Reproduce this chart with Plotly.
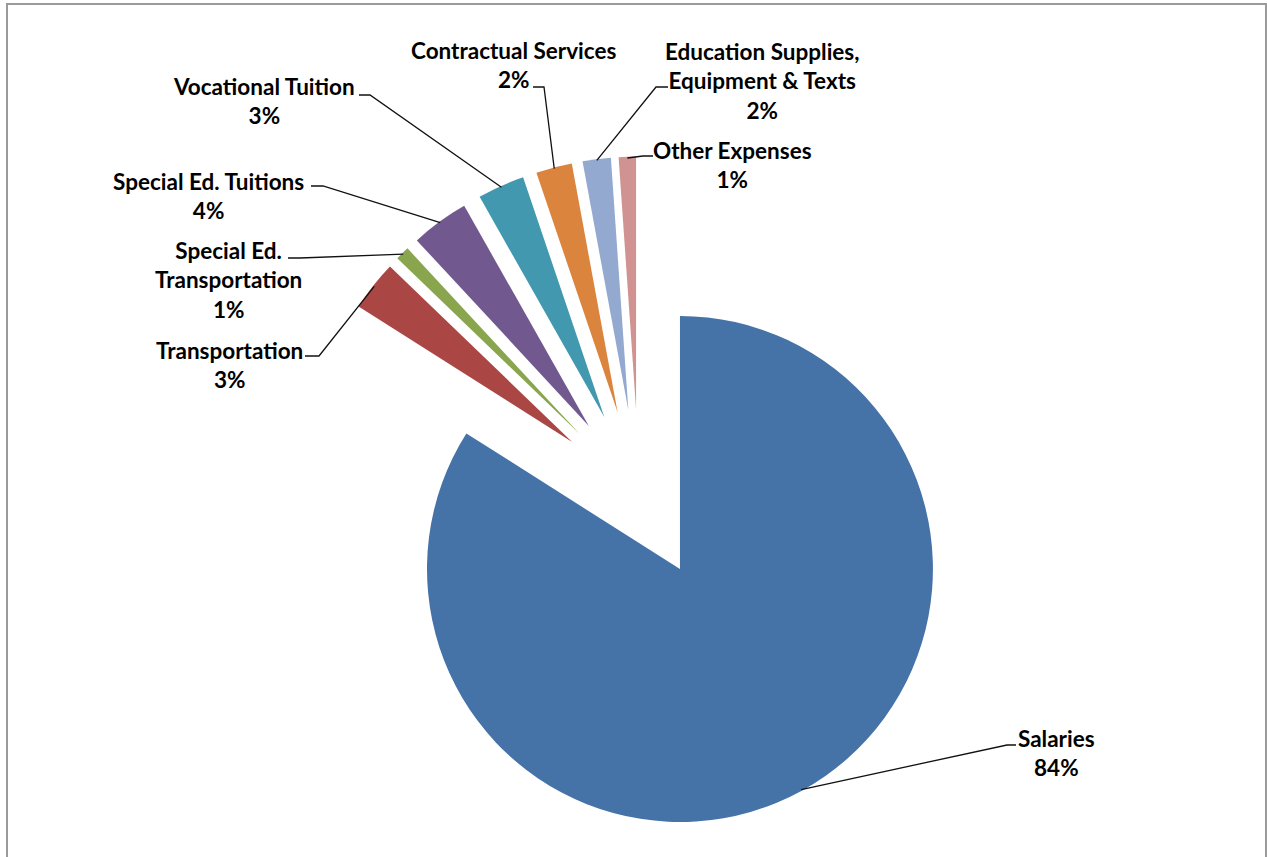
import math
import plotly.graph_objects as go

# ---- data ----
labels = ["Salaries", "Transportation", "Special Ed.<br>Transportation", "Special Ed. Tuitions",
          "Vocational Tuition", "Contractual Services", "Education Supplies,<br>Equipment & Texts",
          "Other Expenses"]
values = [84.0, 3.2, 0.9, 3.7, 3.0, 2.3, 1.8, 1.1]
colors = ["#4572A7", "#AA4643", "#89A54E", "#71588F", "#4198AF", "#DB843D", "#93A9CF", "#D19392"]

# ---- layout parameters (pixels) ----
W, H = 1267, 857
PULL = 0.336
dom_x = [0.2376, 0.7711]
dom_y = [0.0286, 0.8174]
FONT = "Lato"
FSIZE = 22.5

# label text centres (px) and leader-line stub (text end, elbow)
label_pos = [(1056, 753), (229, 365), (228, 280), (208, 196), (264, 101), (513, 65), (762, 81), (732, 165)]
stub_end = [(1016, 745), (305, 356), (288, 258), (311, 186), (359, 95), (533, 87), (668, 87), (653, 156)]
stub_elbow = [(1007, 745), (319, 356), (300, 258), (323, 186), (370, 95), (544, 87), (656, 87), (643, 156)]

fig = go.Figure(go.Pie(
    labels=[l.replace("<br>", " ") for l in labels], values=values, sort=False, direction="clockwise",
    rotation=0, pull=[PULL] * len(values), textinfo="none", hoverinfo="label+percent",
    marker=dict(colors=colors, line=dict(width=0)),
    domain=dict(x=dom_x, y=dom_y), showlegend=False,
))

# pie geometry as plotly computes it
box = min((dom_x[1] - dom_x[0]) * W, (dom_y[1] - dom_y[0]) * H)
r = box / (2 * (1 + PULL))
cx = W * (dom_x[0] + dom_x[1]) / 2
cy = H * (1 - (dom_y[0] + dom_y[1]) / 2)

total = sum(values)
cum = 0.0
shapes = []
annotations = []
for i, v in enumerate(values):
    theta = 2 * math.pi * (cum + v / 2) / total
    cum += v
    dist = PULL * r + r * 0.995
    ax = cx + dist * math.sin(theta)
    ay = cy - dist * math.cos(theta)
    ex, ey = stub_elbow[i]
    sx, sy = stub_end[i]
    path = f"M {ax/W} {1-ay/H} L {ex/W} {1-ey/H} L {sx/W} {1-sy/H}"
    shapes.append(dict(type="path", xref="paper", yref="paper", path=path,
                       line=dict(color="#111111", width=1.3)))
    pct = round(v / total * 100)
    lx, ly = label_pos[i]
    annotations.append(dict(x=lx / W, y=1 - ly / H, xref="paper", yref="paper",
                            text=f"<b>{labels[i]}<br>{pct}%</b>", showarrow=False,
                            xanchor="center", yanchor="middle", align="center",
                            font=dict(family=FONT, size=FSIZE, color="#000000")))

# chart-area border
shapes.append(dict(type="rect", xref="paper", yref="paper", x0=7 / W, x1=1266 / W,
                   y0=-0.02, y1=1 - 4 / H, line=dict(color="#9a9a9a", width=2)))

fig.update_layout(width=W, height=H, margin=dict(l=0, r=0, t=0, b=0),
                  paper_bgcolor="white", plot_bgcolor="white",
                  shapes=shapes, annotations=annotations)
fig.write_html("out.html")
